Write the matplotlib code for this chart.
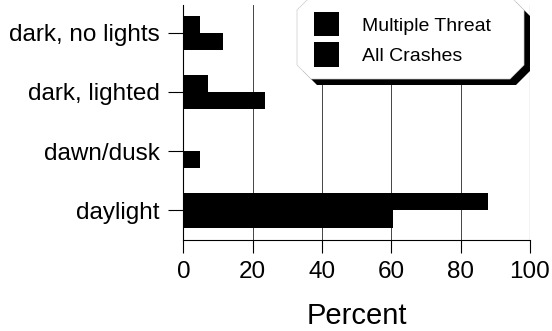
import matplotlib
matplotlib.use('Agg')
from matplotlib import pyplot as plt
from matplotlib.patches import Polygon
import numpy as np

plt.rcParams['font.family'] = ['Liberation Sans', 'DejaVu Sans']

categories = ['dark, no lights', 'dark, lighted', 'dawn/dusk', 'daylight']
multiple_threat = [4.8, 7.2, 0.0, 87.8]
all_crashes = [11.5, 23.5, 4.7, 60.4]
xticks = [0, 20, 40, 60, 80, 100]

W, H = 552, 331
fig = plt.figure(figsize=(W/100, H/100), dpi=100)
ax = fig.add_axes([0.3324, 0.275, 0.6276, 0.71])

y = np.arange(len(categories))
h = 0.29
ax.barh(y - h/2, multiple_threat, height=h, color='black', label='Multiple Threat', zorder=3)
ax.barh(y + h/2, all_crashes, height=h, color='black', label='All Crashes', zorder=3)

ax.set_ylim(3.5, -0.47)
ax.set_xlim(0, 100)
ax.set_yticks(y)
ax.set_yticklabels(categories, fontsize=17.5)
ax.set_xticks(xticks)
ax.set_xticklabels([str(t) for t in xticks], fontsize=17.5)
ax.set_xlabel('Percent', fontsize=21, labelpad=14)
ax.tick_params(axis='y', length=11, width=0.8, pad=6)
ax.tick_params(axis='x', length=9, width=0.8, pad=6)

ax.grid(axis='x', color='#444444', linewidth=0.7, zorder=0)
ax.axvline(100, color='#444444', linewidth=0.8, zorder=1)
for s in ['top', 'right']:
    ax.spines[s].set_visible(False)
ax.spines['left'].set_linewidth(0.8)
ax.spines['bottom'].set_linewidth(0.8)

# legend box with chamfered corners and a solid drop shadow (pixel coords, y down)
def box(x0, y0, x1, y1, c):
    pts = [(x0, y0 + c), (x0 + c, y0), (x1 - c, y0), (x1, y0 + c),
           (x1, y1 - c), (x1 - c, y1), (x0 + c, y1), (x0, y1 - c)]
    return [(px / W, 1 - py / H) for px, py in pts]

off = 6
shadow = Polygon(box(297 + off, -4 + off, 524 + off, 79 + off, 14), closed=True,
                 facecolor='black', edgecolor='none', transform=fig.transFigure, zorder=4)
face = Polygon(box(297, -4, 524, 79, 14), closed=True,
               facecolor='white', edgecolor='#cccccc', linewidth=0.5,
               transform=fig.transFigure, zorder=4.5)
fig.patches.extend([shadow, face])

leg = fig.legend(*ax.get_legend_handles_labels(), loc='upper left',
                 bbox_to_anchor=(314 / W, 1 - 12 / H), bbox_transform=fig.transFigure,
                 fontsize=14, frameon=False, borderpad=0, borderaxespad=0,
                 handlelength=1.3, handleheight=1.55, handletextpad=1.15,
                 labelspacing=0.3)
leg.set_zorder(6)

fig.savefig('out.png', dpi=100)
